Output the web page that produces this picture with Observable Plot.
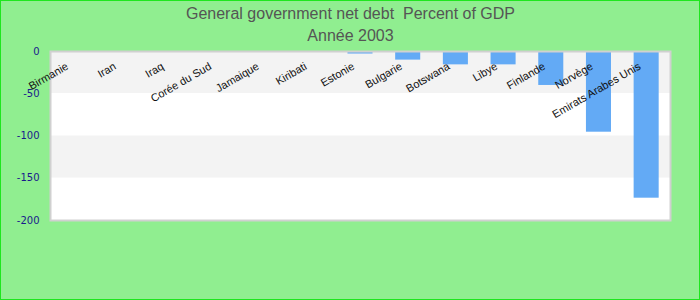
<!DOCTYPE html>
<html><head><meta charset="utf-8">
<script src="https://cdn.jsdelivr.net/npm/d3@7"></script>
<script src="https://cdn.jsdelivr.net/npm/@observablehq/plot@0.6"></script>
<style>html,body{margin:0;padding:0;background:#90ee90}</style>
</head><body><div id="chart"></div>
<script>
const categories = ["Birmanie","Iran","Iraq","Corée du Sud","Jamaique","Kiribati","Estonie","Bulgarie","Botswana","Libye","Finlande","Norvège","Emirats Arabes Unis"];
const values = [0,0,0,0,0,0,-3,-10.2,-15.8,-15.8,-40.2,-95.5,-173.6];
const yTicks = [0,-50,-100,-150,-200];
const title = "General government net debt  Percent of GDP";
const subtitle = "Année 2003";

const data = categories.map((c,i)=>({country:c, value:values[i]}));
const bands = yTicks.slice(0,-1).map((t,i)=>({y1:t, y2:yTicks[i+1], shade: i%2===0 ? "#f3f3f3" : "#ffffff"}));

const chart = Plot.plot({
  width: 700, height: 300,
  marginLeft: 50, marginRight: 30, marginTop: 51, marginBottom: 80,
  style: {background:"#90ee90", outline:"1px solid #1ee61e", outlineOffset:"-1px", overflow:"visible"},
  x: {domain: categories, type:"band", paddingInner: 0.475, paddingOuter: 0.2375, round: false, axis: null},
  y: {domain: [-200, 0], axis: null},
  marks: [
    Plot.frame({fill:"white"}),
    Plot.rect(bands, {y1:"y1", y2:"y2", fill:"shade"}),
    Plot.barY(data, {x:"country", y:"value", fill:"#63aaf5"}),
    Plot.frame({stroke:"#d0d0d0", strokeWidth:2}),
    Plot.axisY({ticks: yTicks, tickSize:0, tickPadding: 11, fill:"#1a1a8c", fontSize:10, fontFamily:"DejaVu Sans", tickFormat: d=>String(d).replace("−","-")}),
    Plot.text(data, {x:"country", y: ()=>0, text:"country", textAnchor:"end", rotate:-30, dx:-7, dy:14, fontSize:11, fontFamily:"Liberation Sans", fill:"#111"}),
    Plot.text([title], {frameAnchor:"top", text:d=>d, dx:-10, dy:-44, fontSize:16, fontFamily:"Liberation Sans", fill:"#555"}),
    Plot.text([subtitle], {frameAnchor:"top", text:d=>d, dx:-10, dy:-22, fontSize:16, fontFamily:"Liberation Sans", fill:"#555"})
  ]
});
document.getElementById("chart").appendChild(chart);
</script></body></html>
